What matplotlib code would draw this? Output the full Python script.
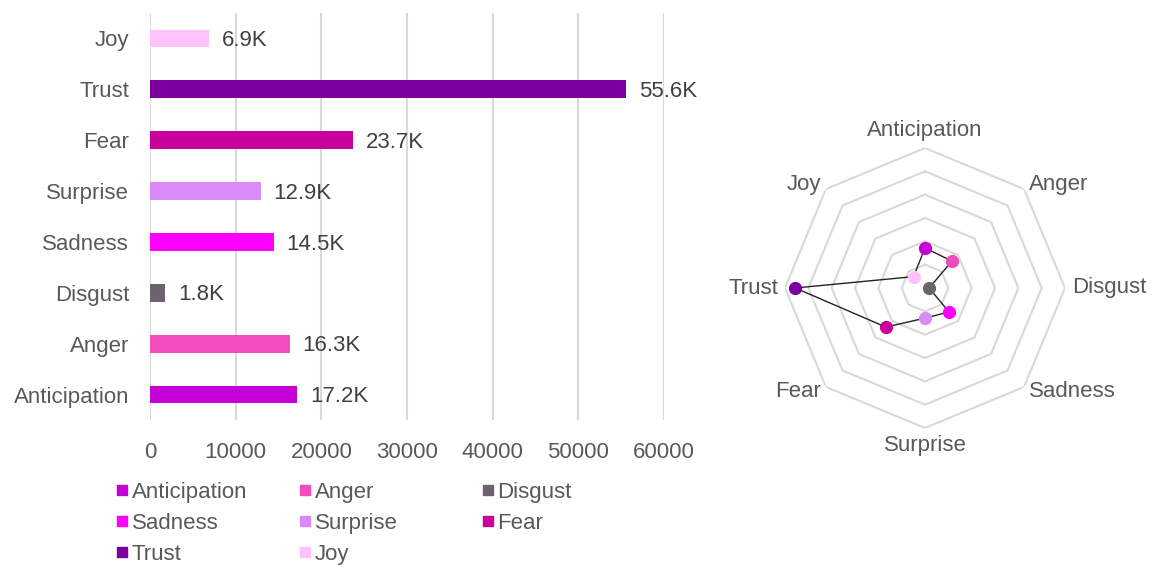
import numpy as np
import matplotlib
matplotlib.use("Agg")
import matplotlib.pyplot as plt
from matplotlib.lines import Line2D

plt.rcParams['font.family'] = ['Liberation Sans', 'DejaVu Sans']

categories = ["Anticipation", "Anger", "Disgust", "Sadness", "Surprise", "Fear", "Trust", "Joy"]
values = [17200, 16300, 1800, 14500, 12900, 23700, 55600, 6900]
value_labels = ["17.2K", "16.3K", "1.8K", "14.5K", "12.9K", "23.7K", "55.6K", "6.9K"]
colors = ["#C400D6", "#F24BBE", "#6E6170", "#FF00FF", "#D98AF6", "#C8009C", "#7B009E", "#FFC2FA"]
x_ticks = [0, 10000, 20000, 30000, 40000, 50000, 60000]
radar_rings = [10000, 20000, 30000, 40000, 50000, 60000]

TXT = "#595959"
GRID = "#D9D9D9"
FS = 16

W, H = 1152, 565
fig = plt.figure(figsize=(W / 100, H / 100), dpi=100)

# ---- Bar chart ----
ax = fig.add_axes([150 / W, 1 - 420 / H, 514 / W, 407 / H])
ypos = np.arange(len(categories))
ax.barh(ypos, values, height=0.35, color=colors, zorder=3)
for y, v, lab in zip(ypos, values, value_labels):
    ax.annotate(lab, (v, y), xytext=(9, -1.5), textcoords="offset points",
                ha="left", va="center", fontsize=FS, color="#404040")
ax.set_xlim(0, 60000)
ax.set_ylim(-0.5, len(categories) - 0.5)
ax.set_yticks(ypos)
ax.set_yticklabels(categories)
ax.set_xticks(x_ticks)
ax.set_xticklabels([str(t) for t in x_ticks])
ax.tick_params(axis="both", length=0, labelsize=FS, labelcolor=TXT)
ax.tick_params(axis="y", pad=15)
ax.tick_params(axis="x", pad=16)
for s in ax.spines.values():
    s.set_visible(False)
ax.grid(axis="x", color=GRID, linewidth=1.5, zorder=0)
ax.set_axisbelow(True)

# ---- Legend (three columns, row-major order) ----
col_x = [116, 299, 482]
for c in range(3):
    idx = [i for i in range(len(categories)) if i % 3 == c]
    handles = [Line2D([], [], marker="s", linestyle="none", markersize=7.5,
                      markerfacecolor=colors[i], markeredgecolor=colors[i]) for i in idx]
    labels = [categories[i] for i in idx]
    fig.legend(handles, labels, ncol=1, loc="upper left",
               bbox_to_anchor=(col_x[c] / W, 1 - 482 / H), frameon=False,
               fontsize=FS, labelcolor=TXT, handlelength=0.5, handletextpad=0.2,
               labelspacing=0.45, borderaxespad=0, borderpad=0)

# ---- Radar chart ----
cx, cy, R = 925, 288, 140
pax = fig.add_axes([(cx - R) / W, 1 - (cy + R) / H, 2 * R / W, 2 * R / H], projection="polar")
pax.set_theta_offset(np.pi / 2)
pax.set_theta_direction(-1)
n = len(categories)
angles = np.linspace(0, 2 * np.pi, n, endpoint=False)
closed = np.concatenate([angles, angles[:1]])
for r in radar_rings:
    pax.plot(closed, [r] * (n + 1), color=GRID, linewidth=1.5, zorder=1)
vals_closed = values + values[:1]
pax.plot(closed, vals_closed, color="#222222", linewidth=1.0, zorder=2)
for a, v, c in zip(angles, values, colors):
    pax.plot([a], [v], marker="o", markersize=8.5, color=c, markeredgecolor=c, zorder=3)
pax.set_ylim(0, 60000)
pax.set_xticks([])
pax.set_yticks([])
pax.grid(False)
pax.spines["polar"].set_visible(False)
pax.patch.set_alpha(0)
for a, lab in zip(angles, categories):
    sx, sy = np.sin(a), np.cos(a)
    ha = "center" if abs(sx) < 0.1 else ("left" if sx > 0 else "right")
    if abs(sy) < 0.1 or abs(sx) > 0.5:
        va = "center"
    else:
        va = "bottom" if sy > 0 else "top"
    pax.text(a, 60000 * 1.05, lab, ha=ha, va=va, fontsize=FS, color=TXT)

fig.savefig("out.png", dpi=100)
